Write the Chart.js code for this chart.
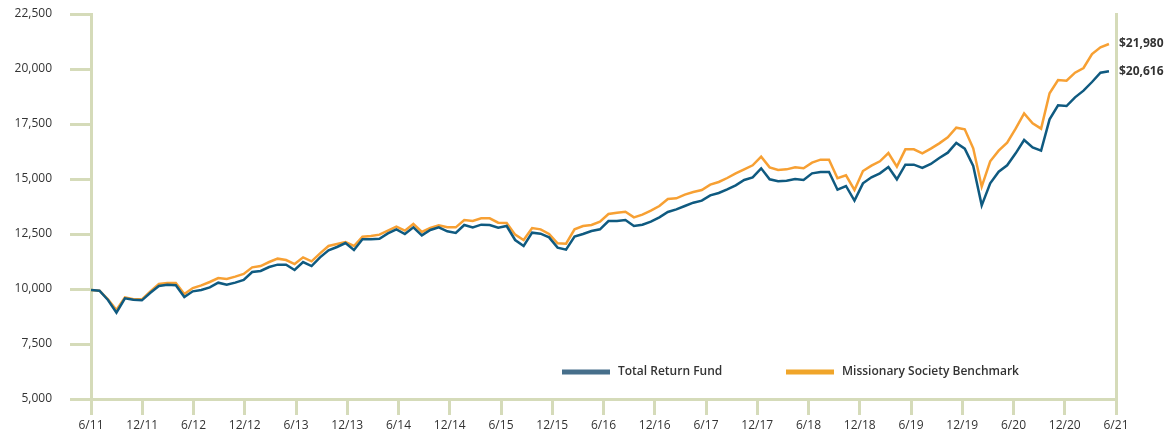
<!DOCTYPE html>
<html>
<head>
<meta charset="utf-8">
<script src="https://cdn.jsdelivr.net/npm/chart.js@4"></script>
<style>
  html, body { margin: 0; padding: 0; background: #fff; }
  #wrap { width: 1167px; height: 437px; position: relative; }
</style>
</head>
<body>
<div id="wrap"><canvas id="growthChart"></canvas></div>
<script>
// monthly values, 6/11 through 6/21
const fundValues = [
  9955, 9922, 9500, 8923, 9577, 9515, 9485, 9832, 10136, 10197, 10167, 9636,
  9894, 9955, 10076, 10288, 10197, 10288, 10409, 10773, 10818, 11000, 11106, 11106,
  10864, 11227, 11045, 11439, 11758, 11909, 12091, 11773, 12258, 12258, 12286, 12530,
  12712, 12500, 12803, 12439, 12682, 12803, 12621, 12545, 12910, 12803, 12924, 12909,
  12788, 12864, 12227, 11955, 12561, 12515, 12348, 11879, 11788, 12379, 12500, 12636,
  12712, 13091, 13091, 13136, 12864, 12924, 13061, 13258, 13500, 13621, 13773, 13924,
  14015, 14258, 14364, 14530, 14712, 14955, 15076, 15485, 14985, 14894, 14924, 15000,
  14955, 15258, 15318, 15318, 14515, 14682, 14015, 14803, 15076, 15258, 15545, 14985,
  15651, 15651, 15500, 15682, 15955, 16197, 16636, 16379, 15591, 13803, 14803, 15333,
  15621, 16167, 16773, 16439, 16288, 17712, 18348, 18318, 18712, 19015, 19409, 19833,
  19894
];
const benchmarkValues = [
  9955, 9922, 9530, 9045, 9621, 9530, 9530, 9894, 10227, 10273, 10273, 9773,
  10045, 10167, 10318, 10500, 10455, 10561, 10682, 10985, 11045, 11227, 11379, 11318,
  11136, 11439, 11258, 11621, 11955, 12045, 12136, 11955, 12379, 12409, 12470, 12652,
  12833, 12652, 12955, 12591, 12773, 12894, 12803, 12803, 13136, 13091, 13212, 13212,
  13015, 13000, 12470, 12227, 12773, 12712, 12500, 12076, 12061, 12712, 12864, 12909,
  13061, 13409, 13470, 13515, 13258, 13379, 13561, 13773, 14091, 14121, 14288, 14409,
  14500, 14742, 14864, 15045, 15258, 15439, 15621, 16015, 15530, 15409, 15439, 15530,
  15485, 15742, 15879, 15879, 15038, 15167, 14500, 15364, 15606, 15803, 16182, 15561,
  16348, 16348, 16167, 16379, 16621, 16894, 17333, 17258, 16394, 14652, 15803, 16288,
  16652, 17288, 17985, 17530, 17288, 18894, 19500, 19470, 19833, 20045, 20682, 20985,
  21136
];
const xTickLabels = ["6/11", "12/11", "6/12", "12/12", "6/13", "12/13", "6/14", "12/14",
  "6/15", "12/15", "6/16", "12/16", "6/17", "12/17", "6/18", "12/18", "6/19", "12/19",
  "6/20", "12/20", "6/21"];
const yTickValues = [5000, 7500, 10000, 12500, 15000, 17500, 20000, 22500];
const seriesNames = ["Total Return Fund", "Missionary Society Benchmark"];
const endLabels = ["$20,616", "$21,980"];

const axisColor = "#d5dbb9";
const textColor = "#333333";
const lineColors = ["#0f5a80", "#f7a033"];
const legendColors = ["#476f8b", "#f0a52a"];
const xMax = 120.83;

const font = { family: "'Open Sans', 'DejaVu Sans', sans-serif", size: 12 };

const extras = {
  id: "extras",
  afterDraw(chart) {
    const ctx = chart.ctx;
    const yScale = chart.scales.y;
    const area = chart.chartArea;
    ctx.save();
    ctx.font = "700 12px 'Open Sans', sans-serif";
    ctx.fillStyle = textColor;
    ctx.textBaseline = "middle";
    ctx.textAlign = "left";
    chart.data.datasets.forEach((ds, i) => {
      const last = ds.data[ds.data.length - 1];
      ctx.fillText(endLabels[i], area.right + 3, yScale.getPixelForValue(last.y));
    });

    // legend inside the plot
    const legendX = [562, 786];
    const legendY = 372;
    ctx.font = "600 12px 'Open Sans', sans-serif";
    seriesNames.forEach((name, i) => {
      ctx.fillStyle = legendColors[i];
      ctx.fillRect(legendX[i], legendY - 2.5, 48, 5);
      ctx.fillStyle = textColor;
      ctx.fillText(name, legendX[i] + 56, legendY);
    });
    ctx.restore();
  }
};

const toPoints = (values) => values.map((v, i) => ({ x: i, y: v }));

new Chart(document.getElementById("growthChart"), {
  type: "line",
  data: {
    datasets: [
      {
        label: seriesNames[0],
        data: toPoints(fundValues),
        borderColor: lineColors[0],
        borderWidth: 2.5,
        pointRadius: 0,
        tension: 0,
      },
      {
        label: seriesNames[1],
        data: toPoints(benchmarkValues),
        borderColor: lineColors[1],
        borderWidth: 2.5,
        pointRadius: 0,
        tension: 0,
      },
    ],
  },
  options: {
    responsive: true,
    maintainAspectRatio: false,
    animation: false,
    layout: { padding: { top: 14, right: 51, left: 0, bottom: 0 } },
    plugins: { legend: { display: false }, tooltip: { enabled: false } },
    scales: {
      x: {
        type: "linear",
        min: 0,
        max: xMax,
        afterBuildTicks(scale) {
          scale.ticks = xTickLabels.map((_, k) => ({ value: (k * xMax) / 20 }));
        },
        afterFit(scale) { scale.height = 38; },
        ticks: {
          autoSkip: false,
          maxRotation: 0,
          padding: 3,
          color: textColor,
          font: font,
          callback: (value, index) => xTickLabels[index],
        },
        grid: { drawOnChartArea: false, tickLength: 16, color: axisColor, lineWidth: 3 },
        border: { color: axisColor, width: 3 },
      },
      y: {
        min: 5000,
        max: 22500,
        afterBuildTicks(scale) {
          scale.ticks = yTickValues.map((v) => ({ value: v }));
        },
        afterFit(scale) {
          scale.width = 91;
          scale.paddingTop = 0;
          scale.paddingBottom = 0;
        },
        ticks: {
          padding: 18,
          color: textColor,
          font: font,
          callback: (value) => value.toLocaleString("en-US"),
        },
        grid: { drawOnChartArea: false, tickLength: 21, color: axisColor, lineWidth: 3 },
        border: { color: axisColor, width: 3 },
      },
      y2: {
        position: "right",
        min: 5000,
        max: 22500,
        afterFit(scale) {
          scale.width = 0;
          scale.paddingTop = 0;
          scale.paddingBottom = 0;
        },
        ticks: { display: false },
        grid: { drawOnChartArea: false, drawTicks: false },
        border: { color: axisColor, width: 3 },
      },
    },
  },
  plugins: [extras],
});
</script>
</body>
</html>
